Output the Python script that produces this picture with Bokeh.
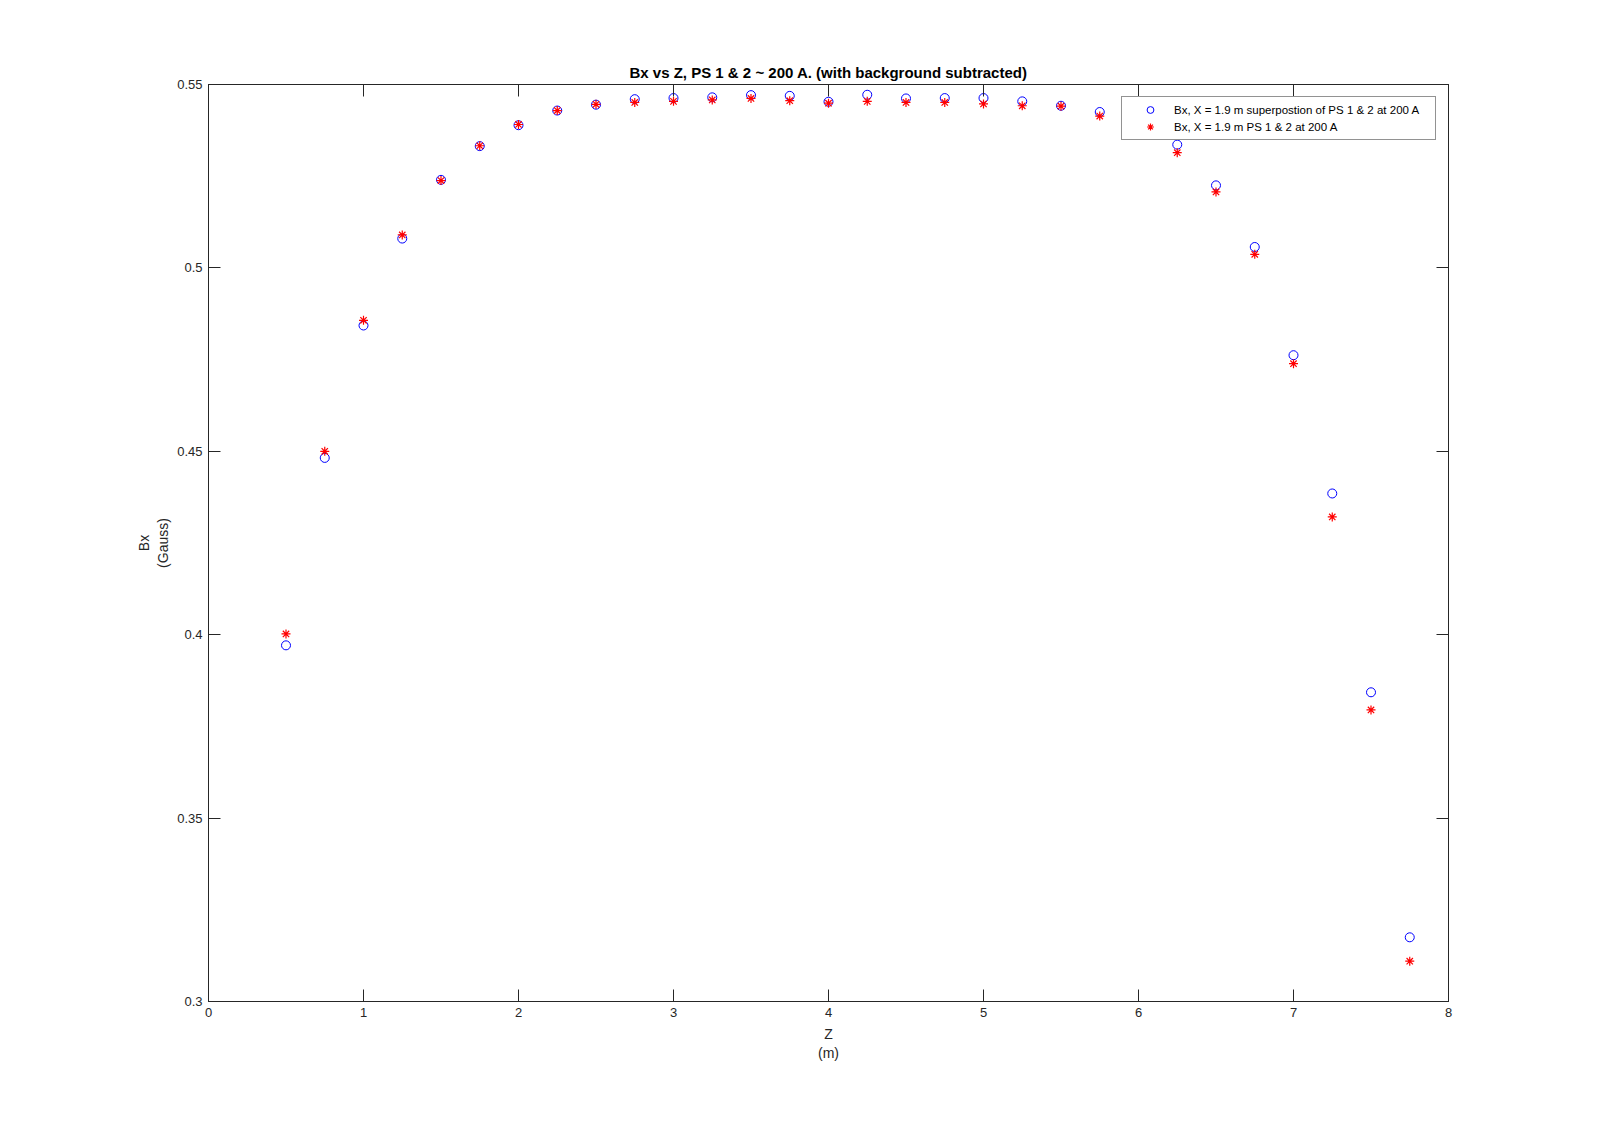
from bokeh.plotting import figure
from bokeh.models import Range1d, LinearAxis, FixedTicker, CustomJSTickFormatter, Legend, LegendItem
from bokeh.embed import file_html
from bokeh.resources import INLINE

# Data
z = [0.5, 0.75, 1.0, 1.25, 1.5, 1.75, 2.0, 2.25, 2.5, 2.75, 3.0, 3.25, 3.5, 3.75,
     4.0, 4.25, 4.5, 4.75, 5.0, 5.25, 5.5, 5.75, 6.0, 6.25, 6.5, 6.75, 7.0, 7.25, 7.5, 7.75]
bx_superposition = [0.3971, 0.4482, 0.4843, 0.5080, 0.5240, 0.5332, 0.5389, 0.5429, 0.5445, 0.5460,
                    0.5463, 0.5465, 0.5471, 0.5469, 0.5453, 0.5472, 0.5462, 0.5463, 0.5463, 0.5454,
                    0.5442, 0.5425, 0.5385, 0.5336, 0.5225, 0.5057, 0.4762, 0.4385, 0.3843, 0.3175]
bx_measured = [0.4002, 0.4500, 0.4857, 0.5090, 0.5238, 0.5333, 0.5391, 0.5429, 0.5446, 0.5451,
               0.5454, 0.5458, 0.5462, 0.5456, 0.5449, 0.5454, 0.5451, 0.5451, 0.5447, 0.5442,
               0.5441, 0.5414, 0.5372, 0.5314, 0.5207, 0.5037, 0.4739, 0.4321, 0.3795, 0.3110]
x_ticks = [0, 1, 2, 3, 4, 5, 6, 7, 8]
y_ticks = [0.3, 0.35, 0.4, 0.45, 0.5, 0.55]
title_text = "Bx vs Z, PS 1 & 2 ~ 200 A. (with background subtracted)"
label_superposition = "Bx, X = 1.9 m superpostion of PS 1 & 2 at 200 A"
label_measured = "Bx, X = 1.9 m PS 1 & 2 at 200 A"

FONT = "Liberation Sans"
AX = "#262626"

p = figure(width=1600, height=1116, output_backend="svg", toolbar_location=None,
           x_range=Range1d(0, 8), y_range=Range1d(0.3, 0.55),
           min_border_left=208, min_border_right=152, min_border_top=84, min_border_bottom=115,
           x_axis_label="Z\n(m)", y_axis_label="Bx\n(Gauss)")
p.background_fill_color = "white"
p.border_fill_color = "white"
p.outline_line_color = AX
p.outline_line_width = 1
p.grid.visible = False

p.title.text = title_text
p.title.align = "center"
p.title.text_font = FONT
p.title.text_font_size = "15px"
p.title.text_font_style = "bold"
p.title.text_color = "black"
p.title.standoff = 7

fmt = CustomJSTickFormatter(code="return String(Number(tick.toFixed(4)));")
blank = CustomJSTickFormatter(code="return '';")

for ax in p.xaxis + p.yaxis:
    ax.axis_line_color = AX
    ax.major_tick_line_color = AX
    ax.major_tick_in = 12
    ax.major_tick_out = 0
    ax.minor_tick_line_color = None
    ax.major_label_text_font = FONT
    ax.major_label_text_font_size = "13px"
    ax.major_label_text_color = AX
    ax.axis_label_text_font = FONT
    ax.axis_label_text_font_size = "14px"
    ax.axis_label_text_font_style = "normal"
    ax.axis_label_text_color = AX
    ax.major_label_standoff = 6

p.xaxis.ticker = FixedTicker(ticks=x_ticks)
p.yaxis.ticker = FixedTicker(ticks=y_ticks)
p.yaxis.formatter = fmt
p.xaxis.axis_label_standoff = 6
p.yaxis.axis_label_standoff = 3

top = LinearAxis(ticker=FixedTicker(ticks=x_ticks), formatter=blank)
right = LinearAxis(ticker=FixedTicker(ticks=y_ticks), formatter=blank)
for ax in (top, right):
    ax.axis_line_color = AX
    ax.major_tick_line_color = AX
    ax.major_tick_in = 12
    ax.major_tick_out = 0
    ax.minor_tick_line_color = None
    ax.major_label_standoff = 0
p.add_layout(top, "above")
p.add_layout(right, "right")

r1 = p.scatter(z, bx_superposition, marker="circle", size=9, fill_color=None,
               line_color="#0000ff", line_width=1)
r2 = p.scatter(z, bx_measured, marker="asterisk", size=9,
               line_color="#ff0000", line_width=1.2)

legend = Legend(items=[LegendItem(label=label_superposition, renderers=[r1]),
                       LegendItem(label=label_measured, renderers=[r2])],
                location="top_right")
legend.margin = 12
legend.padding = 4
legend.spacing = 0
legend.glyph_width = 48
legend.glyph_height = 17
legend.label_height = 17
legend.label_width = 257
legend.label_standoff = 0
legend.label_text_font = FONT
legend.label_text_font_size = "11.5px"
legend.label_text_color = "black"
legend.border_line_color = AX
legend.border_line_width = 1
legend.background_fill_color = "white"
legend.background_fill_alpha = 1.0
p.add_layout(legend, "center")

open("out.html", "w").write(file_html(p, INLINE))
